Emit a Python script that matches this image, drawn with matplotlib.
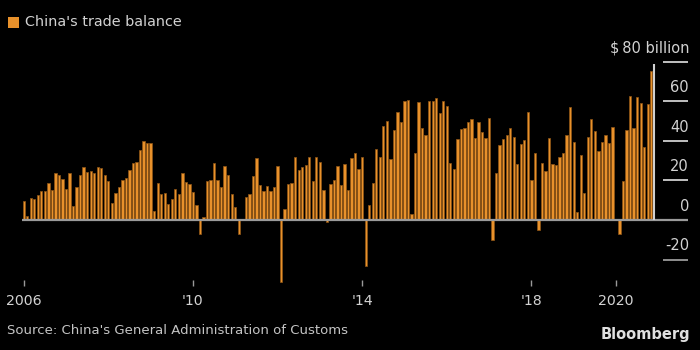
import matplotlib
matplotlib.use("Agg")
import matplotlib.pyplot as plt
import numpy as np

# Monthly China trade balance, US$ billion, Jan 2006 .. Nov 2020 (Jan 2020 not reported)
y2006 = [9.6, 2.0, 11.2, 10.5, 12.5, 14.5, 14.6, 18.8, 15.3, 23.8, 22.9, 20.9]
y2007 = [15.9, 23.8, 6.9, 16.9, 22.5, 26.9, 24.4, 25.0, 23.9, 27.0, 26.3, 22.7]
y2008 = [19.5, 8.6, 13.4, 16.7, 20.2, 21.4, 25.3, 28.7, 29.3, 35.2, 40.1, 39.0]
y2009 = [39.1, 4.8, 18.6, 13.1, 13.4, 8.3, 10.6, 15.7, 12.9, 24.0, 19.1, 18.4]
y2010 = [14.2, 7.6, -7.2, 1.7, 19.5, 20.0, 28.7, 20.0, 16.9, 27.1, 22.9, 13.1]
y2011 = [6.5, -7.3, 0.1, 11.4, 13.1, 22.3, 31.5, 17.8, 14.5, 17.0, 14.5, 16.5]
y2012 = [27.3, -31.5, 5.4, 18.4, 18.7, 31.7, 25.1, 26.7, 27.7, 32.0, 19.6, 31.6]
y2013 = [29.2, 15.3, -0.9, 18.2, 20.4, 27.1, 17.8, 28.5, 15.2, 31.1, 33.8, 25.6]
y2014 = [31.9, -23.0, 7.7, 18.5, 35.9, 31.6, 47.3, 49.8, 31.0, 45.4, 54.5, 49.6]
y2015 = [60.0, 60.6, 3.1, 34.1, 59.5, 46.5, 43.0, 60.2, 60.3, 61.6, 54.1, 60.1]
y2016 = [57.5, 29.0, 26.0, 41.0, 45.8, 46.5, 49.5, 51.0, 41.4, 49.3, 44.4, 41.6]
y2017 = [51.4, -10.0, 23.9, 38.1, 40.8, 42.8, 46.7, 42.0, 28.5, 38.2, 40.2, 54.7]
y2018 = [20.3, 33.7, -5.0, 28.8, 24.9, 41.6, 28.1, 27.9, 31.7, 34.0, 43.0, 57.1]
y2019 = [39.2, 4.1, 32.6, 13.8, 41.7, 51.0, 45.1, 34.8, 39.6, 42.8, 38.7, 46.8]
y2020 = [np.nan, -7.1, 19.9, 45.3, 62.9, 46.4, 62.3, 58.9, 37.0, 58.4, 75.4]

balance = np.array(y2006 + y2007 + y2008 + y2009 + y2010 + y2011 + y2012 + y2013
                   + y2014 + y2015 + y2016 + y2017 + y2018 + y2019 + y2020)
months = np.arange(len(balance))

xtick_pos = [0, 48, 96, 144, 168]
xtick_labels = ["2006", "'10", "'14", "'18", "2020"]
ygrid_vals = [80, 60, 40, 20, 0, -20]
ygrid_labels = ["$\u200980 billion", "60", "40", "20", "0", "-20"]

BG = "black"
ORANGE = "#e8912b"
EDGE = "#8f5515"
TXT = "#d2d2d2"

W, H = 700, 350
fig = plt.figure(figsize=(7, 3.5), dpi=100, facecolor=BG)

# pixel geometry
px_left, px_right = 20, 692
px_top, px_bot = 40, 286
x0_px, px_per_month = 23.7, (616 - 23.7) / 168.0
y0_px, px_per_unit = 220.0, (220 - 61.7) / 80.0

ax = fig.add_axes([px_left / W, 1 - px_bot / H, (px_right - px_left) / W, (px_bot - px_top) / H])
ax.set_facecolor(BG)
ax.set_xlim((px_left - x0_px) / px_per_month, (px_right - x0_px) / px_per_month)
ax.set_ylim(-(px_bot - y0_px) / px_per_unit, (y0_px - px_top) / px_per_unit)
for s in ax.spines.values():
    s.set_visible(False)

ok = ~np.isnan(balance)
ax.bar(months[ok], balance[ok], width=0.66, color=ORANGE, edgecolor=EDGE, linewidth=0.5, zorder=2)

def px2x(px):
    return (px - x0_px) / px_per_month

# right-hand scale lines and labels
for v, lab in zip(ygrid_vals, ygrid_labels):
    if v == 0:
        ax.hlines(v, px2x(22), px2x(688), color="#9a9a9a", lw=1.6, zorder=3)
    else:
        col = "#9a9a9a" if v < 0 else "#d0d0d0"
        ax.hlines(v, px2x(663), px2x(688), color=col, lw=1.3, zorder=3)
    ax.text(px2x(689), v + 3.2, lab, color=TXT, fontsize=10.5, ha="right", va="bottom",
            family=["DejaVu Sans"])

# vertical axis line at right
ax.vlines(px2x(654), 0, 79, color="#d0d0d0", lw=1.5, zorder=3)

ax.set_yticks([])
ax.set_xticks(xtick_pos)
ax.set_xticklabels(xtick_labels)
ax.tick_params(axis="x", direction="in", length=4.5, width=1, color="#9a9a9a",
               labelcolor=TXT, labelsize=10.2, pad=6)

# title with legend square
fig.patches.append(plt.Rectangle((8 / W, 1 - 28.3 / H), 11 / W, 11 / H,
                                 transform=fig.transFigure, facecolor=ORANGE, edgecolor="none"))
fig.text(25 / W, 1 - 22.5 / H, "China's trade balance", color=TXT, fontsize=10.4, va="center", ha="left")

fig.text(7 / W, 1 - 330 / H, "Source: China's General Administration of Customs", color="#c4c4c4",
         fontsize=9.5, va="center", ha="left")
fig.text(690 / W, 1 - 334 / H, "Bloomberg", color="#e0e0e0", fontsize=10.5, fontweight="bold",
         va="center", ha="right")

fig.savefig("out.png", dpi=100, facecolor=BG)
